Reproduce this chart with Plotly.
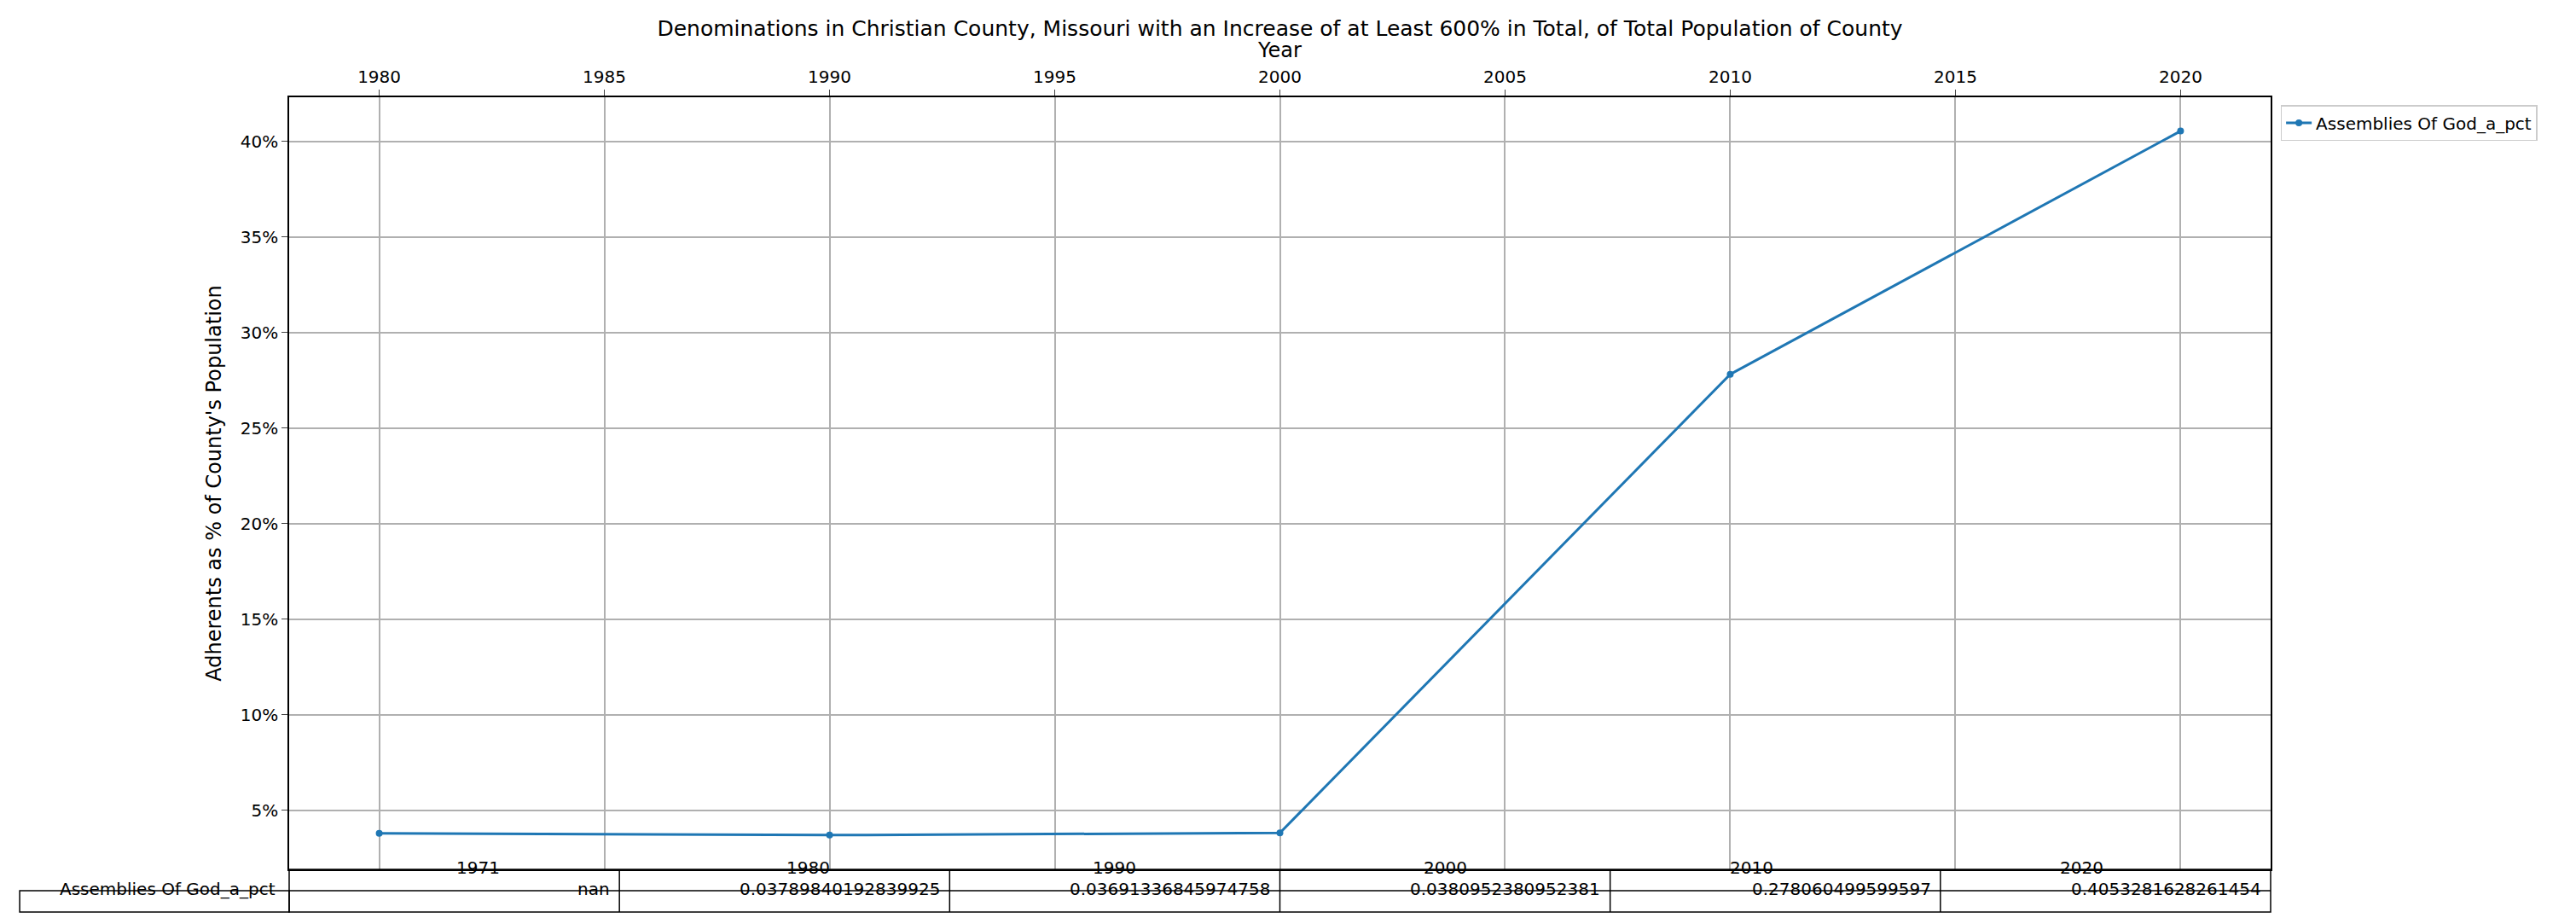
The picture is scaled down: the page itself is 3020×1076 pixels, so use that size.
import plotly.graph_objects as go

years = [1980, 1990, 2000, 2010, 2020]
pct = [0.037898401928399250, 0.03691336845974758, 0.0380952380952381, 0.278060499599597, 0.4053281628261454]
series_name = "Assemblies Of God_a_pct"
table_years = ["1971", "1980", "1990", "2000", "2010", "2020"]
table_vals = ["nan", "0.037898401928399250", "0.03691336845974758", "0.0380952380952381",
              "0.278060499599597", "0.4053281628261454"]
table_vals[1] = "0.03789840192839925"

fig = go.Figure()
fig.add_trace(go.Scatter(
    x=years, y=pct, mode="lines+markers", name=series_name,
    line=dict(color="#1f77b4", width=3), marker=dict(size=8, color="#1f77b4"),
))

# table drawn under the plot in paper coordinates
shapes, annots = [], []
r1, r2 = -0.0276, -0.0552
line = dict(color="black", width=1.5)
shapes.append(dict(type="rect", xref="paper", yref="paper", x0=0, x1=1, y0=r2, y1=0, line=line))
shapes.append(dict(type="rect", xref="paper", yref="paper", x0=-0.136, x1=0, y0=r2, y1=r1, line=line))
shapes.append(dict(type="line", xref="paper", yref="paper", x0=0, x1=1, y0=r1, y1=r1, line=line))
n = len(table_years)
for i in range(1, n):
    shapes.append(dict(type="line", xref="paper", yref="paper", x0=i / n, x1=i / n, y0=r2, y1=0, line=line))
for i, (yr, v) in enumerate(zip(table_years, table_vals)):
    annots.append(dict(xref="paper", yref="paper", x=(i + 0.5) / n, y=r1 / 2, text=yr,
                       showarrow=False, font=dict(size=20)))
    annots.append(dict(xref="paper", yref="paper", x=(i + 1) / n - 0.004, y=(r1 + r2) / 2, text=v,
                       xanchor="right", showarrow=False, font=dict(size=20)))
annots.append(dict(xref="paper", yref="paper", x=-0.006, y=(r1 + r2) / 2, text=series_name,
                   xanchor="right", showarrow=False, font=dict(size=20)))

fig.update_layout(
    width=3020, height=1076,
    margin=dict(l=331, r=366, t=106, b=65),
    paper_bgcolor="white", plot_bgcolor="white",
    font=dict(family="DejaVu Sans", color="black", size=20),
    title=dict(text="Denominations in Christian County, Missouri with an Increase of at Least 600% in Total, of Total Population of County",
               x=0.5, xref="paper", y=0.985, yanchor="top", font=dict(size=25)),
    xaxis=dict(side="top", range=[1978, 2022], dtick=5, title=dict(text="Year", standoff=4),
               showgrid=True, gridcolor="#b0b0b0", gridwidth=1.5, showline=True, mirror=True,
               linecolor="black", linewidth=1.5, ticks="outside", ticklen=7, zeroline=False),
    yaxis=dict(range=[0.019, 0.423], dtick=0.05, tick0=0.05, tickformat=".0%",
               title=dict(text="Adherents as % of County's Population"),
               showgrid=True, gridcolor="#b0b0b0", gridwidth=1.5, showline=True, mirror=True,
               linecolor="black", linewidth=1.5, ticks="outside", ticklen=7, zeroline=False),
    legend=dict(x=1.005, y=0.99, xanchor="left", yanchor="top", bordercolor="#cccccc",
                borderwidth=1.5, font=dict(size=20)),
    showlegend=True,
    shapes=shapes, annotations=annots,
)

fig.write_html("out.html")
